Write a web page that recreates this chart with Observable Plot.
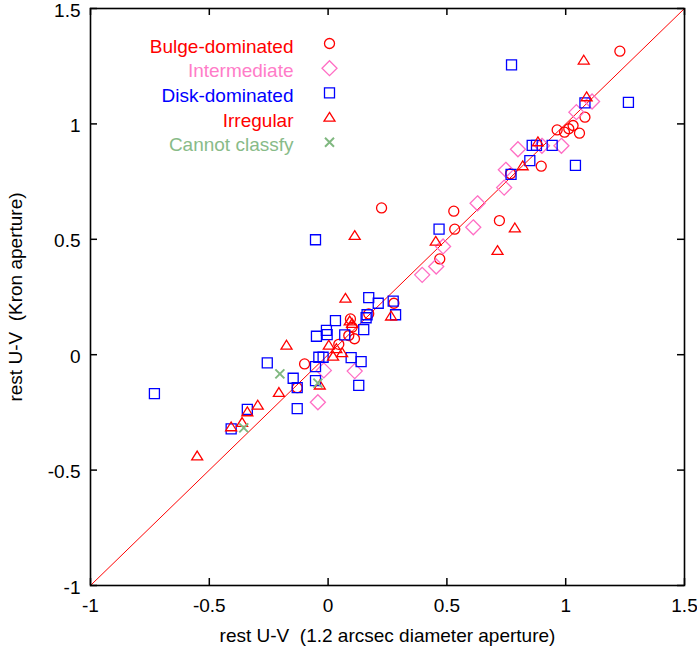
<!DOCTYPE html>
<html>
<head>
<meta charset="utf-8">
<script src="https://cdn.jsdelivr.net/npm/d3@7"></script>
<script src="https://cdn.jsdelivr.net/npm/@observablehq/plot@0.6"></script>
<style>
  html, body { margin: 0; padding: 0; background: #fff; }
  svg { font-family: "Liberation Sans", Arial, sans-serif; }
</style>
</head>
<body>
<div id="chart"></div>
<script>
// rest-frame U-V colour: 1.2" aperture (x) vs Kron aperture (y), by morphology

const bulgeDominated = [
  [1.228, 1.315], [1.081, 1.029], [0.964, 0.974], [0.995, 0.964], [1.013, 0.979],
  [1.031, 0.993], [1.058, 0.960], [0.897, 0.817], [0.768, 0.784], [0.529, 0.622],
  [0.721, 0.581], [0.533, 0.544], [0.470, 0.415], [0.225, 0.636], [0.277, 0.223],
  [0.171, 0.177], [0.094, 0.155], [0.101, 0.119], [0.087, 0.083], [0.111, 0.069],
  [0.045, 0.045], [-0.099, -0.040], [-0.130, -0.143]
];

const intermediate = [
  [1.111, 1.097], [1.045, 1.051], [0.982, 0.905], [0.900, 0.905], [0.799, 0.890],
  [0.748, 0.801], [0.741, 0.724], [0.629, 0.656], [0.611, 0.552], [0.484, 0.469],
  [0.455, 0.382], [0.396, 0.346], [-0.018, -0.068], [0.112, -0.071], [-0.043, -0.206]
];

const diskDominated = [
  [0.772, 1.256], [1.264, 1.093], [1.081, 1.091], [0.859, 0.907], [0.877, 0.907],
  [0.943, 0.907], [0.849, 0.841], [1.041, 0.820], [0.770, 0.781], [0.467, 0.544],
  [-0.053, 0.498], [0.171, 0.247], [0.211, 0.223], [0.274, 0.232], [0.284, 0.173],
  [0.164, 0.173], [0.160, 0.160], [0.031, 0.148], [0.150, 0.109], [-0.007, 0.105],
  [-0.004, 0.087], [-0.049, 0.080], [0.070, 0.086], [-0.039, -0.011], [-0.021, -0.011],
  [0.097, -0.013], [0.139, -0.030], [-0.053, -0.052], [-0.256, -0.035], [-0.147, -0.102],
  [-0.130, -0.143], [-0.130, -0.234], [-0.053, -0.112], [0.129, -0.133], [-0.731, -0.169],
  [-0.340, -0.237], [-0.408, -0.321]
];

const irregular = [
  [1.076, 1.275], [1.088, 1.116], [0.883, 0.921], [0.819, 0.817], [0.786, 0.548],
  [0.713, 0.450], [0.453, 0.490], [0.112, 0.515], [0.073, 0.243], [0.265, 0.166],
  [0.091, 0.145], [0.101, 0.134], [0.003, 0.040], [0.059, 0.007], [0.021, -0.008],
  [0.035, 0.025], [-0.175, 0.040], [-0.207, -0.165], [-0.035, -0.133], [-0.340, -0.249],
  [-0.296, -0.220], [-0.362, -0.295], [-0.408, -0.314], [-0.551, -0.440]
];

const unclassified = [
  [-0.203, -0.083], [-0.043, -0.123], [-0.355, -0.317]
];

const xTicks = [-1, -0.5, 0, 0.5, 1, 1.5];
const yTicks = [-1, -0.5, 0, 0.5, 1, 1.5];
const oneToOne = [-1, 1.5];

const xTitle = "rest U-V\u00a0 (1.2 arcsec diameter aperture)";
const yTitle = "rest U-V\u00a0 (Kron aperture)";

// open symbols in the gnuplot style
const symCircle = {draw(c) { c.moveTo(5, 0); c.arc(0, 0, 5, 0, 2 * Math.PI); c.closePath(); }};
const symSquare = {draw(c) { c.moveTo(-5, -5); c.lineTo(5, -5); c.lineTo(5, 5); c.lineTo(-5, 5); c.closePath(); }};
const symDiamond = {draw(c) { c.moveTo(0, -7.5); c.lineTo(7.5, 0); c.lineTo(0, 7.5); c.lineTo(-7.5, 0); c.closePath(); }};
const symTriangle = {draw(c) { c.moveTo(0, -5.2); c.lineTo(5.5, 3.6); c.lineTo(-5.5, 3.6); c.closePath(); }};
const symTimes = {draw(c) { c.moveTo(-4.5, -4.5); c.lineTo(4.5, 4.5); c.moveTo(-4.5, 4.5); c.lineTo(4.5, -4.5); }};

const classes = [
  {label: "Bulge-dominated", data: bulgeDominated, symbol: symCircle, color: "#ff0000", textColor: "#ff0000", width: 1.3},
  {label: "Intermediate", data: intermediate, symbol: symDiamond, color: "#ff6ec4", textColor: "#ff7cc8", width: 1.3},
  {label: "Disk-dominated", data: diskDominated, symbol: symSquare, color: "#0000ff", textColor: "#0000ff", width: 1.3},
  {label: "Irregular", data: irregular, symbol: symTriangle, color: "#ff0000", textColor: "#ff0000", width: 1.3},
  {label: "Cannot classfy", data: unclassified, symbol: symTimes, color: "#80b880", textColor: "#88bb88", width: 2}
];

const W = 697, H = 652;
const mL = 90, mR = 13, mT = 8, mB = 67;
const frameW = W - mL - mR, frameH = H - mT - mB;
const tickLen = 7;
const fs = 19;

const legendMarks = classes.flatMap((k, i) => [
  Plot.text([k.label], {
    frameAnchor: "top-left", dx: 203, dy: 38 + i * 24.7,
    textAnchor: "end", lineAnchor: "middle", fill: k.textColor, fontSize: fs
  }),
  Plot.dot([0], {
    frameAnchor: "top-left", dx: 239, dy: 35 + i * 24.7,
    symbol: k.symbol, r: 5, fill: "none", stroke: k.color, strokeWidth: k.width
  })
]);

const chart = Plot.plot({
  width: W,
  height: H,
  marginLeft: mL,
  marginRight: mR,
  marginTop: mT,
  marginBottom: mB,
  x: {domain: [-1, 1.5], axis: null},
  y: {domain: [-1, 1.5], axis: null},
  marks: [
    Plot.line(oneToOne, {x: d => d, y: d => d, stroke: "#ff0000", strokeWidth: 1}),
    ...classes.map(k => Plot.dot(k.data, {
      x: d => d[0], y: d => d[1],
      symbol: k.symbol, r: 5, fill: "none", stroke: k.color, strokeWidth: k.width
    })),
    ...legendMarks,
    // inward ticks on all four sides
    Plot.ruleX(xTicks, {x: d => d, insetTop: frameH - tickLen, stroke: "black", strokeWidth: 1.5}),
    Plot.ruleX(xTicks, {x: d => d, insetBottom: frameH - tickLen, stroke: "black", strokeWidth: 1.5}),
    Plot.ruleY(yTicks, {y: d => d, insetRight: frameW - tickLen, stroke: "black", strokeWidth: 1.5}),
    Plot.ruleY(yTicks, {y: d => d, insetLeft: frameW - tickLen, stroke: "black", strokeWidth: 1.5}),
    Plot.axisX(xTicks, {anchor: "bottom", tickSize: 0, tickPadding: 13, tickFormat: d => String(d), fontSize: fs, label: null, fill: "black"}),
    Plot.axisY(yTicks, {anchor: "left", tickSize: 0, tickPadding: 10, dy: 2, tickFormat: d => String(d), fontSize: fs, label: null, fill: "black"}),
    Plot.frame({stroke: "black", strokeWidth: 1.6}),
    Plot.text([xTitle], {frameAnchor: "bottom", dy: 50, lineAnchor: "middle", textAnchor: "middle", fontSize: fs, fill: "black"}),
    Plot.text([yTitle], {frameAnchor: "left", dx: -75, rotate: -90, lineAnchor: "middle", textAnchor: "middle", fontSize: fs, fill: "black"})
  ]
});

document.getElementById("chart").append(chart);
</script>
</body>
</html>
